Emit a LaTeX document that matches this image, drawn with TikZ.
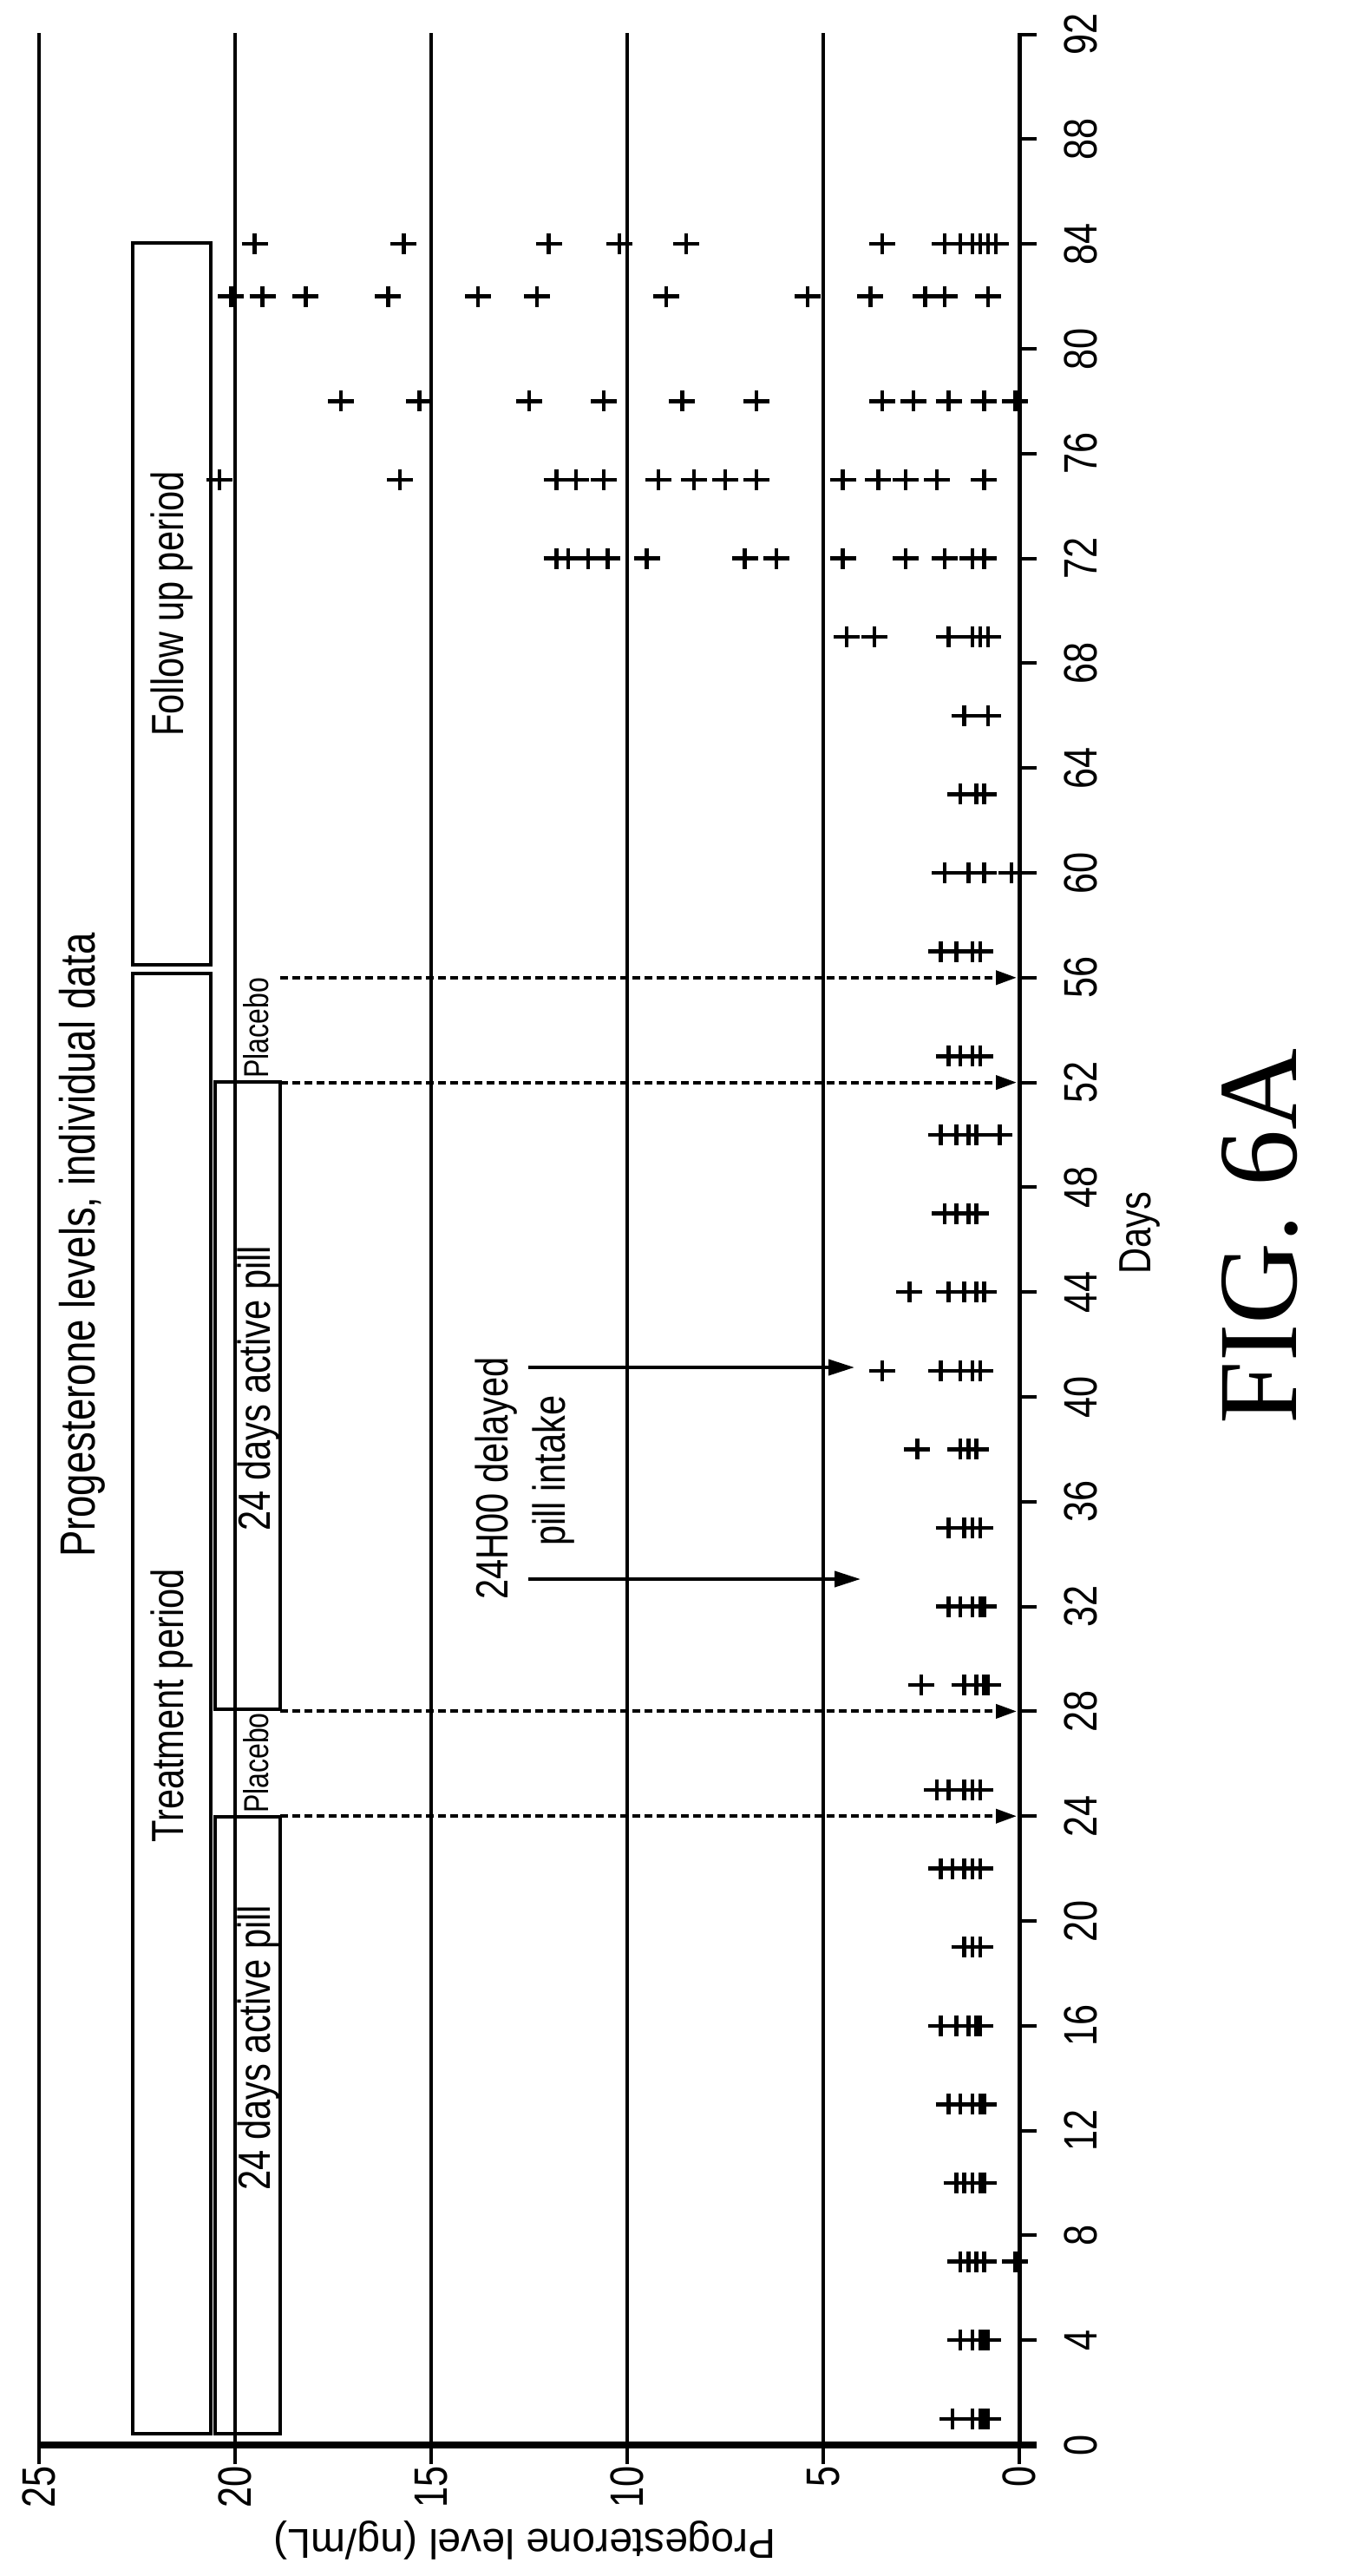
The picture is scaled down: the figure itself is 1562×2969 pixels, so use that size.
\documentclass[tikz,border=0pt]{standalone}
\usepackage{fontspec}
\setmainfont{Liberation Sans}
\newfontfamily\nf{Liberation Sans}[FakeStretch=0.8]
\newfontfamily\figfont{Liberation Serif}
\usetikzlibrary{arrows.meta}
\tikzset{
  ln/.style={line width=4pt},
  boxx/.style={line width=4.5pt},
  dsh/.style={line width=4pt,dash pattern=on 9pt off 5pt,-{Triangle[length=24pt,width=16pt]}},
  sol/.style={line width=4pt,-{Triangle[length=30pt,width=18pt]}},
  pm/.style={line width=4.5pt},
  lab/.style={font=\nf\fontsize{52}{56}\selectfont,rotate=90,inner sep=0pt},
  tick/.style={font=\nf\fontsize{54}{58}\selectfont,rotate=90,inner sep=0pt},
}
\newcommand{\pmk}[2]{\draw[pm] ({1175-45.2*(#2)-15},{2818-30.2*(#1)}) -- ++(30,0) ({1175-45.2*(#2)},{2818-30.2*(#1)-12}) -- ++(0,24);}
\begin{document}
\begin{tikzpicture}[x=1pt,y=-1pt]
\useasboundingbox (0,0) rectangle (1562,2969);
% grid / levels
\foreach \v in {5,10,15,20,25} \draw[ln] ({1175-45.2*\v},38) -- ({1175-45.2*\v},2818);
% day axis
\draw[line width=5pt] (1175,38) -- (1175,2818);
\foreach \d in {0,4,...,92} {
  \draw[ln] (1175,{2818-30.2*\d}) -- ++(20,0);
  \node[tick] (dl\d) at (1246,{2818-30.2*\d}) {\d};
}
% level axis
\draw[line width=8pt] (45,2818) -- (1195,2818);
\foreach \v in {0,5,10,15,20,25} {
  \draw[ln] ({1175-45.2*\v},2818) -- ++(0,22);
  \node[tick,anchor=east] (ll\v) at ({1175-45.2*\v},2842) {\v};
}
\node[font=\fontsize{48}{52}\selectfont,rotate=180,inner sep=0pt] (ytitle) at (605,2928) {Progesterone level (ng/mL)};
\node[lab] (xtitle) at (1314,1421) {Days};
\node[font=\figfont\fontsize{130}{135}\selectfont,rotate=90,inner sep=0pt] (fig) at (1452,1425) {FIG. 6A};
\node[lab,font=\nf\fontsize{57}{60}\selectfont] (title) at (95,1435) {Progesterone levels, individual data};
% boxes
\draw[boxx] (153,280) rectangle (243,1112);
\node[lab] (fu) at (198,696) {Follow up period};
\draw[boxx] (153,1122) rectangle (243,2805);
\node[lab] (tp) at (198,1966) {Treatment period};
\draw[boxx] (248,2094) rectangle (323,2805);
\node[lab] (ap1) at (298,2360) {24 days active pill};
\draw[boxx] (248,1247) rectangle (323,1970);
\node[lab] (ap2) at (298,1600) {24 days active pill};
\node[font=\nf\fontsize{40}{44}\selectfont,rotate=90,inner sep=0pt,anchor=west] (pl1) at (295,2090) {Placebo};
\node[font=\nf\fontsize{40}{44}\selectfont,rotate=90,inner sep=0pt,anchor=west] (pl2) at (295,1243) {Placebo};
% dashed markers
\foreach \d in {24,28,52,56} \draw[dsh] (323,{2818-30.2*\d}) -- (1172,{2818-30.2*\d});
% delayed intake
\node[lab] (dl1) at (572,1704) {24H00 delayed};
\node[lab] (dl2) at (638,1695) {pill intake};
\coordinate (a1s) at (609,1576); \coordinate (a1e) at (985,1576);
\coordinate (a2s) at (609,1820); \coordinate (a2e) at (992,1820);
\draw[sol] (a1s) -- (a1e);
\draw[sol] (a2s) -- (a2e);
% data
\foreach \d/\vals in {
 1/{1.7,1.2,1.0,0.9,0.8}, 4/{1.5,1.2,1.0,0.9,0.8}, 7/{1.5,1.3,1.1,0.9,0.1},
 10/{1.6,1.4,1.2,1.0,0.9}, 13/{1.8,1.5,1.2,1.0,0.9}, 16/{2.0,1.6,1.3,1.1,1.0},
 19/{1.4,1.2,1.0}, 22/{2.0,1.7,1.4,1.2,1.0}, 25/{2.1,1.8,1.4,1.2,1.0},
 29/{2.5,1.4,1.1,0.9,0.8}, 32/{1.8,1.5,1.2,1.0,0.9}, 35/{1.8,1.4,1.2,1.0},
 38/{2.6,1.5,1.3,1.1}, 41/{3.5,2.0,1.5,1.2,1.0}, 44/{2.8,1.8,1.4,1.1,0.9},
 47/{1.9,1.6,1.3,1.1}, 50/{2.0,1.6,1.3,1.1,0.5}, 53/{1.8,1.5,1.2,1.0},
 57/{2.0,1.6,1.2,1.0}, 60/{1.9,1.3,0.9,0.2}, 63/{1.5,1.1,0.9}, 66/{1.4,0.8},
 69/{4.4,3.7,1.8,1.2,1.0,0.8},
 72/{11.8,11.5,11.0,10.5,9.5,7.0,6.2,4.5,2.9,1.9,1.2,0.9},
 75/{20.4,15.8,11.8,11.3,10.6,9.2,8.3,7.5,6.7,4.5,3.6,2.9,2.1,0.9},
 78/{17.3,15.3,12.5,10.6,8.6,6.7,3.5,2.7,1.8,0.9,0.1},
 82/{20.1,19.3,18.2,16.1,13.8,12.3,9.0,5.4,3.8,2.4,1.9,0.8},
 84/{19.5,15.7,12.0,10.2,8.5,3.5,1.9,1.5,1.2,1.0,0.8,0.6}}
 { \foreach \v in \vals { \pmk{\d}{\v} } }
\end{tikzpicture}
\end{document}
